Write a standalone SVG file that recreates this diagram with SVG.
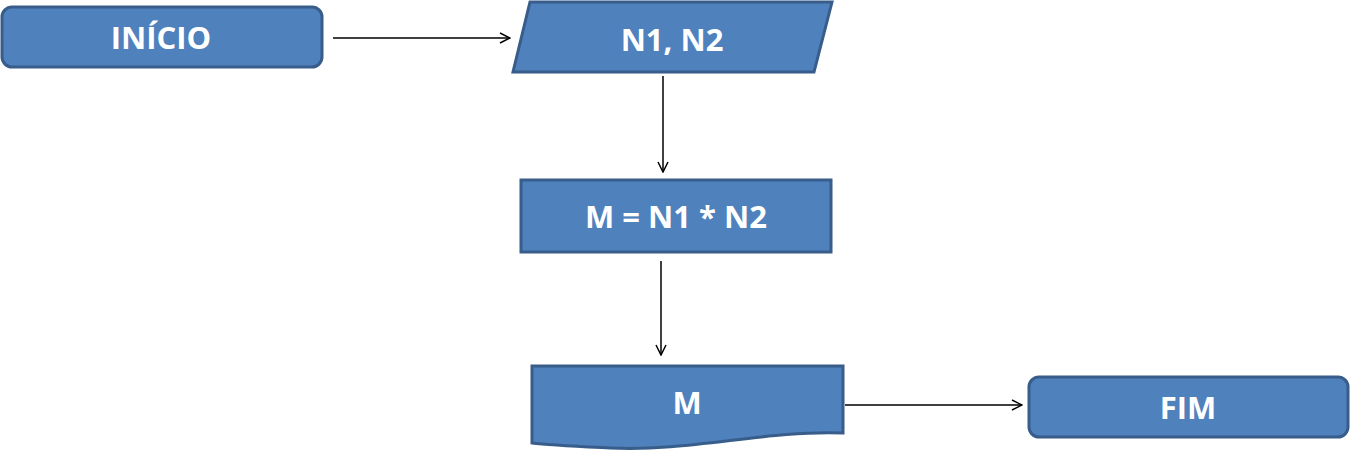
<svg xmlns="http://www.w3.org/2000/svg" width="1351" height="453" viewBox="0 0 1351 453">
<defs>
<style>
.shape{fill:#4F81BD;stroke:#385D8A;stroke-width:3;}
.lbl{fill:#FFFFFF;font-family:"Open Sans","Liberation Sans",sans-serif;font-weight:bold;font-size:31px;text-anchor:middle;dominant-baseline:central;}
.conn{stroke:#000;stroke-width:1.5;fill:none;marker-end:url(#arr);}
</style>
<marker id="arr" viewBox="0 0 12 12" refX="11" refY="6" markerWidth="12" markerHeight="12" markerUnits="userSpaceOnUse" orient="auto">
<path d="M1,1 L11,6 L1,11" fill="none" stroke="#000" stroke-width="1.5"/>
</marker>
</defs>
<rect width="1351" height="453" fill="#FFFFFF"/>
<g id="connectors">
<line class="conn" x1="333" y1="38" x2="510" y2="38"/>
<line class="conn" x1="663" y1="76" x2="663" y2="172"/>
<line class="conn" x1="661" y1="261" x2="661" y2="355"/>
<line class="conn" x1="845" y1="405" x2="1022" y2="405"/>
</g>
<g id="inicio">
<rect class="shape" x="2" y="7" width="320" height="60" rx="10"/>
<text class="lbl" x="161" y="37">INÍCIO</text>
</g>
<g id="entrada">
<polygon class="shape" points="530,2 832,2 814,72 513,72"/>
<text class="lbl" x="672" y="39">N1, N2</text>
</g>
<g id="processo">
<rect class="shape" x="521" y="180" width="310" height="72"/>
<text class="lbl" x="676" y="216">M = N1 * N2</text>
</g>
<g id="saida">
<path class="shape" d="M532,366 H843 V433 C765,430 690,452 610,448 C570,446 548,445 532,443 Z"/>
<text class="lbl" x="687" y="402">M</text>
</g>
<g id="fim">
<rect class="shape" x="1029" y="377" width="319" height="60" rx="10"/>
<text class="lbl" x="1188" y="407">FIM</text>
</g>
</svg>
